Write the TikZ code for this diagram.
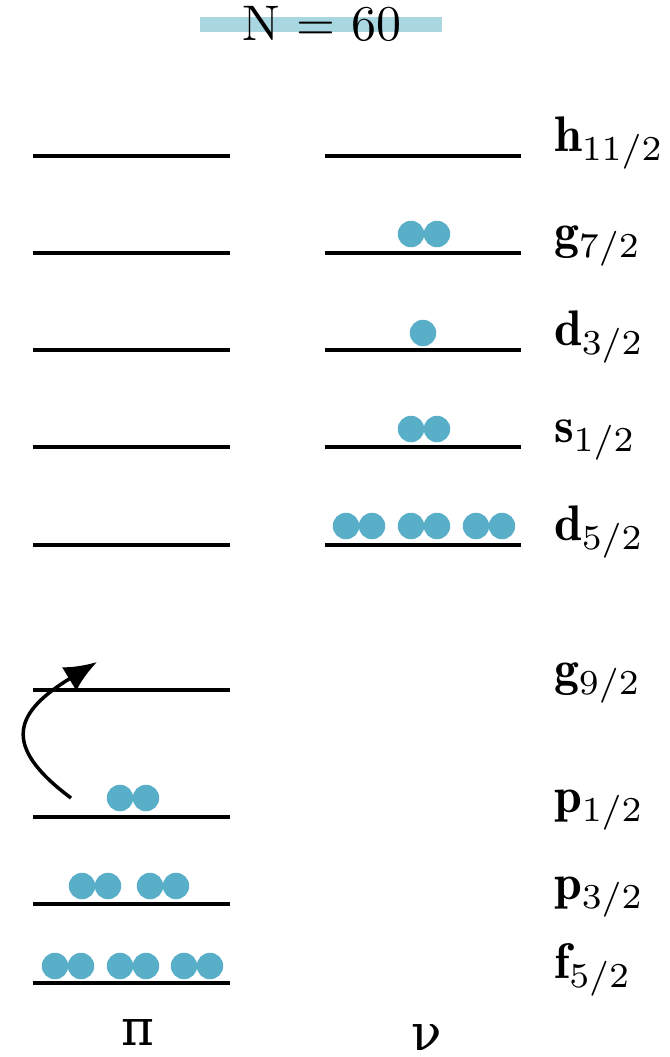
\documentclass[tikz,border=0pt]{standalone}
\usepackage{fontspec}
\newfontfamily\greekfont{DejaVu Serif}
\usetikzlibrary{arrows.meta}
\definecolor{band}{HTML}{A9D7E1}
\definecolor{nucleon}{HTML}{5AAFC8}
\tikzset{
  level/.style={line width=0.7pt},
  particle/.style={circle, fill=nucleon, inner sep=0pt, minimum size=5.3pt},
  orbit/.style={anchor=base west, inner sep=0pt},
}
\begin{document}
\begin{tikzpicture}[x=0.2pt, y=-0.2pt]
\useasboundingbox (0,0) rectangle (669,1057);

% title band
\fill[band] (200,17) rectangle (442,32);
\node (title) at (322,24) {N $=$ 60};

% end points of the single-particle levels
\coordinate (nLh)  at (325,156); \coordinate (nRh)  at (521,156);
\coordinate (nLg)  at (325,253); \coordinate (nRg)  at (521,253);
\coordinate (nLda) at (325,350); \coordinate (nRda) at (521,350);
\coordinate (nLs)  at (325,447); \coordinate (nRs)  at (521,447);
\coordinate (nLdb) at (325,545); \coordinate (nRdb) at (521,545);

\coordinate (pLh)  at (33,156); \coordinate (pRh)  at (230,156);
\coordinate (pLg)  at (33,253); \coordinate (pRg)  at (230,253);
\coordinate (pLda) at (33,350); \coordinate (pRda) at (230,350);
\coordinate (pLs)  at (33,447); \coordinate (pRs)  at (230,447);
\coordinate (pLdb) at (33,545); \coordinate (pRdb) at (230,545);
\coordinate (pLgn) at (33,690); \coordinate (pRgn) at (230,690);
\coordinate (pLpa) at (33,817); \coordinate (pRpa) at (230,817);
\coordinate (pLpb) at (33,904); \coordinate (pRpb) at (230,904);
\coordinate (pLf)  at (33,983); \coordinate (pRf)  at (230,983);

% neutron levels
\draw[level] (nLh) -- (nRh);
\draw[level] (nLg) -- (nRg);
\draw[level] (nLda) -- (nRda);
\draw[level] (nLs) -- (nRs);
\draw[level] (nLdb) -- (nRdb);

% proton levels
\draw[level] (pLh) -- (pRh);
\draw[level] (pLg) -- (pRg);
\draw[level] (pLda) -- (pRda);
\draw[level] (pLs) -- (pRs);
\draw[level] (pLdb) -- (pRdb);
\draw[level] (pLgn) -- (pRgn);
\draw[level] (pLpa) -- (pRpa);
\draw[level] (pLpb) -- (pRpb);
\draw[level] (pLf) -- (pRf);

% orbital labels
\node[orbit] (lh)  at (553,151) {$\mathbf{h}_{11/2}$};
\node[orbit] (lg)  at (553,248) {$\mathbf{g}_{7/2}$};
\node[orbit] (lda) at (553,345) {$\mathbf{d}_{3/2}$};
\node[orbit] (ls)  at (553,442) {$\mathbf{s}_{1/2}$};
\node[orbit] (ldb) at (553,540) {$\mathbf{d}_{5/2}$};
\node[orbit] (lgn) at (553,685) {$\mathbf{g}_{9/2}$};
\node[orbit] (lpa) at (553,812) {$\mathbf{p}_{1/2}$};
\node[orbit] (lpb) at (553,899) {$\mathbf{p}_{3/2}$};
\node[orbit] (lf)  at (553,978) {$\mathbf{f}_{5/2}$};

% neutrons
\node[particle] (n1) at (411,234) {};
\node[particle] (n2) at (437,234) {};
\node[particle] (n3) at (423,333) {};
\node[particle] (n4) at (411,429) {};
\node[particle] (n5) at (437,429) {};
\node[particle] (nd1) at (346,526) {};
\node[particle] (nd2) at (372,526) {};
\node[particle] (nd3) at (411,526) {};
\node[particle] (nd4) at (437,526) {};
\node[particle] (nd5) at (476,526) {};
\node[particle] (nd6) at (502,526) {};

% protons
\node[particle] (p1) at (120,798) {};
\node[particle] (p2) at (146,798) {};
\node[particle] (pp1) at (82,886) {};
\node[particle] (pp2) at (108,886) {};
\node[particle] (pp3) at (150,886) {};
\node[particle] (pp4) at (176,886) {};
\node[particle] (pf1) at (55,966) {};
\node[particle] (pf2) at (81,966) {};
\node[particle] (pf3) at (120,966) {};
\node[particle] (pf4) at (146,966) {};
\node[particle] (pf5) at (184,966) {};
\node[particle] (pf6) at (210,966) {};

% excitation arrow
\coordinate (from) at (71,798);
\coordinate (to) at (97,662);
\draw[line width=0.7pt, -{Latex[length=6.5pt,width=5.5pt]}]
  (from) .. controls (0,745) and (15,712) .. (to);

% columns
\node[anchor=base, inner sep=0pt] (pi) at (138,1045) {\greekfont π};
\node[anchor=base, inner sep=0pt] (nu) at (427,1050) {\greekfont ν};
\end{tikzpicture}
\end{document}
